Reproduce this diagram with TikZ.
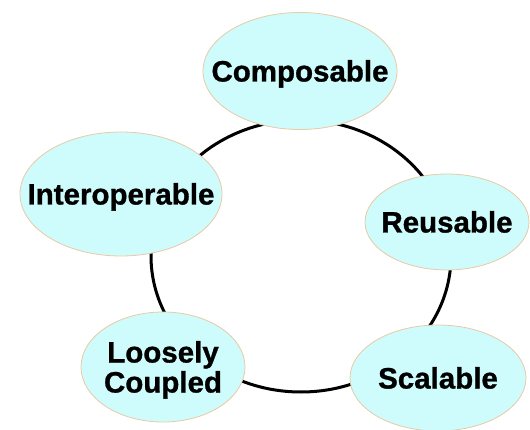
\documentclass[tikz,border=0pt]{standalone}
\usepackage{fontspec}
\setmainfont{Liberation Sans}
\newfontfamily\heavy{Liberation Sans Bold}[FakeBold=1]
\usetikzlibrary{shapes.geometric}
\definecolor{bubblefill}{RGB}{206,252,252}
\definecolor{bubbleedge}{RGB}{232,202,165}
\newcommand{\zb}[1]{\makebox[0pt][c]{#1}}
\tikzset{
  bubble/.style={ellipse, draw=bubbleedge, line width=0.8pt, fill=bubblefill,
    inner sep=0pt, outer sep=0pt, align=center, text height=21pt, text depth=0pt,
    font=\fontsize{29.5}{30}\heavy},
  ring/.style={draw=black, line width=3pt}
}
\begin{document}
\begin{tikzpicture}[x=1pt,y=-1pt]
\useasboundingbox (0,0) rectangle (530,430);
\fill[white] (0,0) rectangle (530,430);
\coordinate (ringc) at (301,256);
\draw[ring] (ringc) ellipse [x radius=150pt, y radius=136pt];
\node[bubble, minimum width=194pt, minimum height=117pt] (comp) at (300,71) {\zb{Composable}};
\node[bubble, minimum width=202pt, minimum height=124pt] (inter) at (121,194) {\zb{Interoperable}};
\node[bubble, minimum width=164pt, minimum height=96pt] (reuse) at (447,222) {\zb{Reusable}};
\node[bubble, minimum width=164pt, minimum height=110pt, text height=51pt] (loose) at (163,367) {\zb{Loosely}\\\zb{Coupled}};
\node[bubble, minimum width=176pt, minimum height=106pt] (scal) at (438,378) {\zb{Scalable}};
\end{tikzpicture}
\end{document}
